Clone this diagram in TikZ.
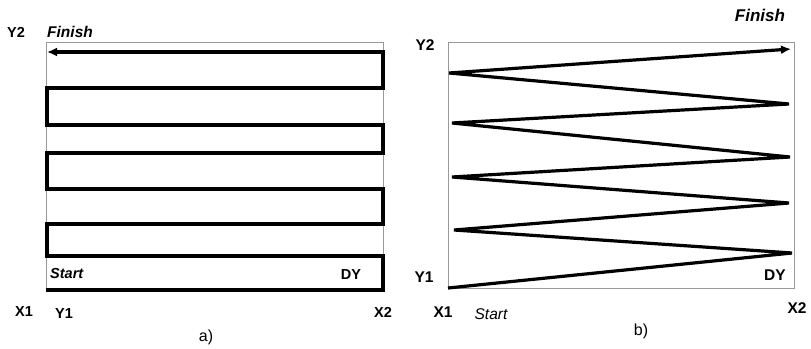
\documentclass[tikz,border=0pt]{standalone}
\usepackage{fontspec}
\setmainfont{Liberation Sans}
\usepackage{tikz}
\usetikzlibrary{arrows.meta}

\begin{document}
\begin{tikzpicture}[x=1pt, y=-1pt,
  font=\fontsize{14.5}{16}\selectfont\bfseries,
  frame/.style={draw=black!40, line width=0.9pt},
  track/.style={line width=3.2pt, line join=miter, miter limit=4,
    -{Latex[length=10pt,width=9pt]}},
  lbl/.style={inner sep=0pt},
  ital/.style={lbl, font=\fontsize{15.5}{17}\selectfont\bfseries\itshape},
  caption/.style={lbl, font=\fontsize{16}{18}\selectfont\mdseries}
]
\useasboundingbox (0,0) rectangle (811,348);

\draw[frame] (46,42) rectangle (383,290);
\draw[track] (46,290) -- (383,290) -- (383,256) -- (47,256) -- (47,224)
  -- (383,224) -- (383,189) -- (47,189) -- (47,153) -- (383,153)
  -- (383,125) -- (47,125) -- (47,88) -- (383,88) -- (383,52) -- (47,52);

\node[lbl] (ytwoa) at (16,32) {Y2};
\node[ital, anchor=west] (finisha) at (47,32) {Finish};
\node[ital, anchor=west, font=\fontsize{14.5}{16}\selectfont\bfseries\itshape] (starta) at (50,274) {Start};
\node[lbl] (dya) at (351,275) {DY};
\node[lbl] (xonea) at (24,312) {X1};
\node[lbl] (yonea) at (64,314) {Y1};
\node[lbl] (xtwoa) at (383,312) {X2};
\node[caption] (capa) at (206,337) {a)};

\draw[frame] (448,42) rectangle (794,288);
\draw[track] (448,288) -- (792,253) -- (454,230) -- (789,203) -- (452,177)
  -- (790,157) -- (452,123) -- (789,104) -- (449,73) -- (791,49);

\node[ital, font=\fontsize{17}{18}\selectfont\bfseries\itshape] (finishb) at (760,15) {Finish};
\node[lbl, font=\fontsize{15.5}{17}\selectfont\bfseries] (ytwob) at (425,45) {Y2};
\node[lbl, font=\fontsize{15.5}{17}\selectfont\bfseries] (yoneb) at (424,277) {Y1};
\node[lbl, font=\fontsize{15.5}{17}\selectfont\bfseries] (dyb) at (775,275) {DY};
\node[lbl, font=\fontsize{15.5}{17}\selectfont\bfseries] (xoneb) at (443,312) {X1};
\node[ital, font=\fontsize{15.5}{17}\selectfont\itshape] (startb) at (491,314) {Start};
\node[lbl, font=\fontsize{15.5}{17}\selectfont\bfseries] (xtwob) at (797,308) {X2};
\node[caption] (capb) at (641,331) {b)};
\end{tikzpicture}
\end{document}
